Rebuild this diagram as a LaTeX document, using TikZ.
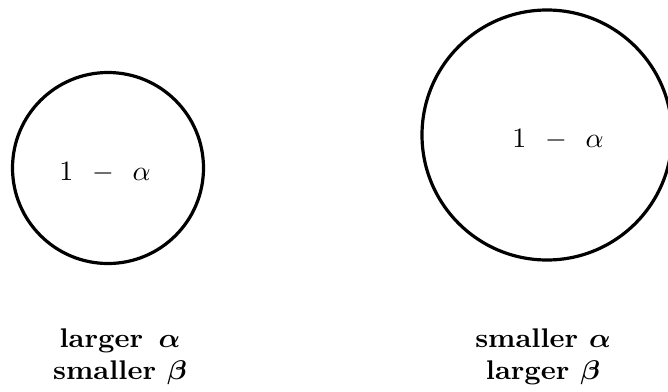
\documentclass[tikz,border=0pt]{standalone}
\usepackage{amsmath}
\usepackage{bm}
\usepackage{tikz}
\begin{document}
\begin{tikzpicture}[x=1pt,y=-1pt,
  region/.style={circle,draw=black,line width=3.2pt,inner sep=0pt},
  inner/.style={scale=2.8,inner sep=0pt},
  caption/.style={font=\bfseries,xscale=2.85,yscale=2.7,align=center,inner sep=0pt}]

  \useasboundingbox (0,0) rectangle (668,391);

  \node[region,minimum size=191pt] (leftc) at (108,168) {};
  \node[region,minimum size=250pt] (rightc) at (547,135) {};

  \node[inner] (lefttxt) at (105,173) {$1 \;\, - \;\, \alpha$};
  \node[inner] (righttxt) at (558,140) {$1 \;\, - \;\, \alpha$};

  \node[caption] (leftcap) at (120,357) {larger \,$\bm{\alpha}$\\smaller $\bm{\beta}$};
  \node[caption] (rightcap) at (543,357) {smaller $\bm{\alpha}$\\larger $\bm{\beta}$};
\end{tikzpicture}
\end{document}
